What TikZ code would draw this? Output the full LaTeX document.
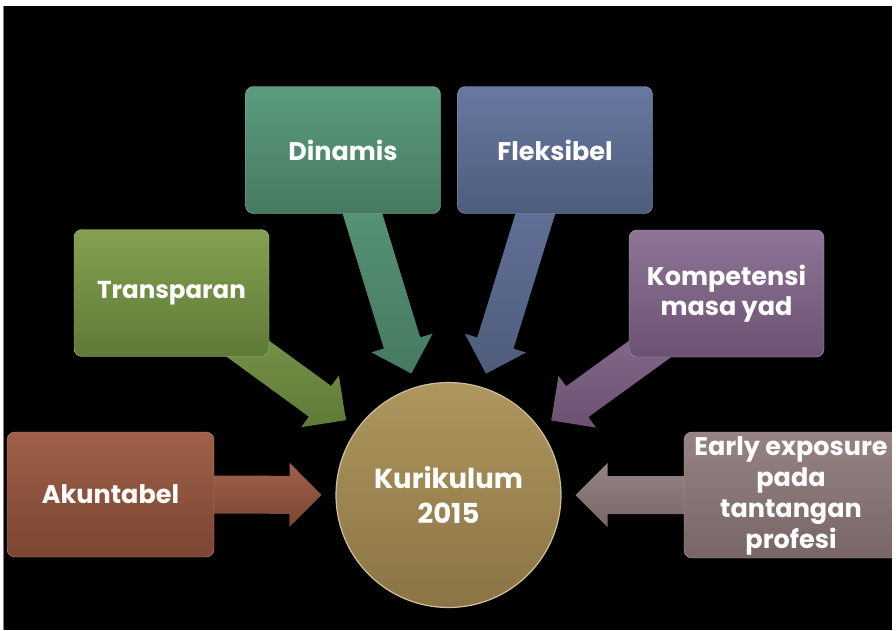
\documentclass[tikz,border=0pt]{standalone}
\usepackage{fontspec}
\setmainfont{Poppins}
\usetikzlibrary{calc,backgrounds}
\definecolor{akT}{HTML}{A0604A}\definecolor{akB}{HTML}{7A4632}
\definecolor{trT}{HTML}{84A050}\definecolor{trB}{HTML}{5E7A38}
\definecolor{diT}{HTML}{5C9C7E}\definecolor{diB}{HTML}{467A60}
\definecolor{flT}{HTML}{6878A0}\definecolor{flB}{HTML}{4E5C7C}
\definecolor{koT}{HTML}{8E7496}\definecolor{koB}{HTML}{6C5272}
\definecolor{eaT}{HTML}{968484}\definecolor{eaB}{HTML}{786666}
\definecolor{ciT}{HTML}{AE965E}\definecolor{ciB}{HTML}{8A7444}
\newcommand{\blockarr}[3]{%
  \path ($(circ.center)!127pt!(#1.center)$) coordinate (T#1);
  \path ($(T#1)!32pt!(#1.center)$) coordinate (B#1);
  \shade[top color=#2, bottom color=#3]
    ($(#1.center)!19pt!-90:(T#1)$) -- ($(B#1)!19pt!90:(#1.center)$) --
    ($(B#1)!32pt!90:(#1.center)$) -- (T#1) --
    ($(B#1)!32pt!-90:(#1.center)$) -- ($(B#1)!19pt!-90:(#1.center)$) --
    ($(#1.center)!19pt!90:(T#1)$) -- cycle;}
\tikzset{
  boxnode/.style={rounded corners=8pt, minimum width=195pt, minimum height=127pt,
    inner sep=0pt, text=white, align=center,
    font=\bfseries\fontsize{25.5}{30}\selectfont},
  circnode/.style={circle, minimum size=225pt, inner sep=0pt, text=white, align=center,
    top color=ciT, bottom color=ciB, draw=ciT!60!white, line width=1.2pt,
    font=\bfseries\fontsize{27.5}{35}\selectfont}
}
\begin{document}
\begin{tikzpicture}[x=1pt,y=-1pt]
\useasboundingbox (0,0) rectangle (896,630);
\begin{scope}[on background layer]
  \fill[white] (0,0) rectangle (896,630);
  \fill[black] (4,6) rectangle (892,630);
  \draw[gray, line width=1pt] (3.5,6) -- (3.5,630);
\end{scope}
\node[circnode] (circ) at (448.5,495) {Kurikulum\\2015};
\node[boxnode, top color=akT, bottom color=akB, draw=akT!70!white, minimum width=207pt, minimum height=125pt] (akun) at (110.5,494.5) {Akuntabel};
\node[boxnode, top color=trT, bottom color=trB, draw=trT!70!white, font=\bfseries\fontsize{24.5}{30}\selectfont] (trans) at (171.5,293) {Transparan};
\node[boxnode, top color=diT, bottom color=diB, draw=diT!70!white] (dina) at (343,150) {Dinamis};
\node[boxnode, top color=flT, bottom color=flB, draw=flT!70!white] (flek) at (555,150) {Fleksibel};
\node[boxnode, top color=koT, bottom color=koB, draw=koT!70!white] (komp) at (726.5,293.5) {Kompetensi\\masa yad};
\node[boxnode, top color=eaT, bottom color=eaB, draw=eaT!70!white, minimum width=214pt, minimum height=126pt] (early) at (791,495) {};
\node[text=white, align=center, font=\bfseries\fontsize{25.5}{31}\selectfont] (earlytxt) at (791,496) {Early exposure\\pada\\tantangan\\profesi};
\begin{scope}[on background layer]
  \blockarr{akun}{akT}{akB}
  \blockarr{trans}{trT}{trB}
  \blockarr{dina}{diT}{diB}
  \blockarr{flek}{flT}{flB}
  \blockarr{komp}{koT}{koB}
  \blockarr{early}{eaT}{eaB}
\end{scope}
\fill[white] (892,0) rectangle (896,630);
\end{tikzpicture}
\end{document}
